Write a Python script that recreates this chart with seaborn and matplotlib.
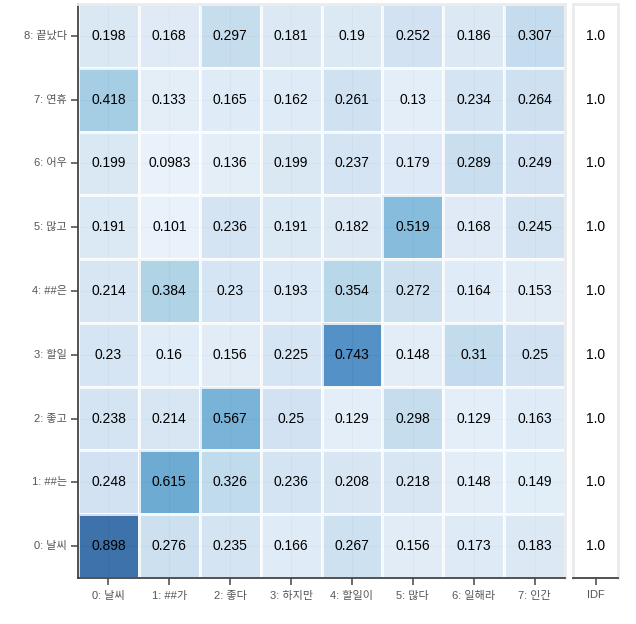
import seaborn as sns
import matplotlib.pyplot as plt
import numpy as np
import pandas as pd
from matplotlib.colors import ListedColormap

# token labels
x_tokens = ['0: 날씨', '1: ##가', '2: 좋다', '3: 하지만', '4: 할일이', '5: 많다', '6: 일해라', '7: 인간']
y_tokens = ['0: 날씨', '1: ##는', '2: 좋고', '3: 할일', '4: ##은', '5: 많고', '6: 어우', '7: 연휴', '8: 끝났다']

# similarity values, one row per y token (0 at the bottom)
row_0 = [0.898, 0.276, 0.235, 0.166, 0.267, 0.156, 0.173, 0.183]
row_1 = [0.248, 0.615, 0.326, 0.236, 0.208, 0.218, 0.148, 0.149]
row_2 = [0.238, 0.214, 0.567, 0.25, 0.129, 0.298, 0.129, 0.163]
row_3 = [0.23, 0.16, 0.156, 0.225, 0.743, 0.148, 0.31, 0.25]
row_4 = [0.214, 0.384, 0.23, 0.193, 0.354, 0.272, 0.164, 0.153]
row_5 = [0.191, 0.101, 0.236, 0.191, 0.182, 0.519, 0.168, 0.245]
row_6 = [0.199, 0.0983, 0.136, 0.199, 0.237, 0.179, 0.289, 0.249]
row_7 = [0.418, 0.133, 0.165, 0.162, 0.261, 0.13, 0.234, 0.264]
row_8 = [0.198, 0.168, 0.297, 0.181, 0.19, 0.252, 0.186, 0.307]

idf_values = [1.0, 1.0, 1.0, 1.0, 1.0, 1.0, 1.0, 1.0, 1.0]

rows = [row_0, row_1, row_2, row_3, row_4, row_5, row_6, row_7, row_8]
sim = pd.DataFrame(rows, index=y_tokens, columns=x_tokens).iloc[::-1]
idf = pd.DataFrame({'IDF': idf_values}, index=y_tokens).iloc[::-1]

sns.set_style('white')
plt.rcParams['font.family'] = ['Liberation Sans', 'Noto Sans CJK KR']

fig = plt.figure(figsize=(6.36, 6.24), dpi=100)
ax = fig.add_axes([78 / 636, 1 - 578 / 624, (565 - 78) / 636, (578 - 4) / 624])
ax2 = fig.add_axes([573 / 636, 1 - 578 / 624, (618 - 573) / 636, (578 - 4) / 624])

sns.heatmap(sim, ax=ax, cmap='Blues', vmin=0, vmax=1, annot=True, fmt='.3g',
            cbar=False, linewidths=2, linecolor='white', alpha=0.78,
            annot_kws={'color': 'black', 'fontsize': 10})

sns.heatmap(idf, ax=ax2, cmap=ListedColormap(['white']), annot=True, fmt='.1f',
            cbar=False, linewidths=2, linecolor='white', yticklabels=False,
            annot_kws={'color': 'black', 'fontsize': 10})

for a in (ax, ax2):
    for side in ['left', 'bottom', 'top', 'right']:
        a.spines[side].set_visible(True)
        a.spines[side].set_color('#ebebeb')
        a.spines[side].set_linewidth(2)
    a.spines['bottom'].set_color('#444444')
    a.spines['bottom'].set_linewidth(1.3)
    a.tick_params(axis='x', bottom=True, direction='out', length=5, width=1.1,
                  color='#444444', labelcolor='#555555', labelsize=8, pad=4)
    a.set_xlabel('')
    a.set_ylabel('')
    plt.setp(a.get_xticklabels(), rotation=0)

ax.spines['left'].set_color('#444444')
ax.spines['left'].set_linewidth(1.3)
ax.tick_params(axis='y', left=True, direction='out', length=5, width=1.1,
               color='#444444', labelcolor='#555555', labelsize=8, pad=3)
plt.setp(ax.get_yticklabels(), rotation=0)
ax2.tick_params(axis='y', left=False, length=0)

# faint grid through the cell centres
ax.grid(True, color='#aaaaaa', linewidth=0.8, alpha=0.3)

plt.savefig('out.png', dpi=100)
